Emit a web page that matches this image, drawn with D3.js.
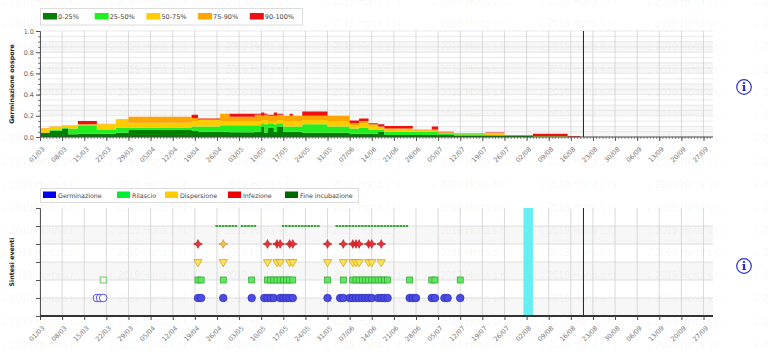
<!DOCTYPE html>
<html><head><meta charset="utf-8">
<script src="https://cdn.jsdelivr.net/npm/d3@7/dist/d3.min.js"></script>
<style>
html,body{margin:0;padding:0;background:#fff;}
svg{display:block;font-family:"DejaVu Sans",Verdana,sans-serif;}
</style></head><body>
<svg id="c" width="768" height="358"></svg>
<script>
// ---------------- DATA ----------------
const year = "2019";
const classLabels = ["0-25%","25-50%","50-75%","75-90%","90-100%"];
const eventLabels = ["Germinazione","Rilascio","Dispersione","Infezione","Fine incubazione"];
const yTicksTop = [0,0.2,0.4,0.6,0.8,1.0];

// step segments of oospore germination (thickness of each class layer)
const segStart = ["03-01","03-04","03-08","03-10","03-13","03-19","03-25","03-29","04-18","04-20","04-27","04-30","05-08","05-10","05-11","05-12","05-14","05-15","05-17","05-19","05-20","05-23","05-31","06-07","06-10","06-13","06-16","06-18","06-27","07-03","07-05","07-10","07-20","07-26","08-04","08-15","08-19"];
const p0_25   = [0.04,0.06,0.08,0.025,0.03,0.03,0.04,0.066,0.06,0.05,0.05,0.045,0.05,0.10,0.04,0.09,0.05,0.10,0.05,0.05,0.05,0.04,0.04,0.03,0.03,0.03,0.05,0.02,0.02,0.02,0.02,0.01,0.01,0.01,0,0,0];
const p25_50  = [0,0.005,0.005,0.055,0.08,0.035,0.05,0.024,0.04,0.05,0.06,0.065,0.06,0.03,0.08,0.04,0.07,0.03,0.05,0.05,0.05,0.08,0.06,0.05,0.06,0.04,0.02,0.03,0.03,0.03,0.015,0.015,0.01,0.01,0.005,0,0];
const p50_75  = [0.04,0.03,0.02,0.025,0.005,0.055,0.075,0.045,0.05,0.06,0.04,0.04,0.04,0.03,0.04,0.02,0.03,0.03,0.05,0.05,0.05,0.04,0.05,0.03,0.04,0.04,0.02,0.02,0.01,0.01,0.005,0.005,0.015,0,0,0,0];
const p75_90  = [0.005,0.005,0.005,0.005,0.005,0.005,0.005,0.055,0.03,0.005,0.07,0.04,0.06,0.04,0.05,0.05,0.05,0.05,0.05,0.05,0.05,0.04,0.05,0.02,0.02,0.01,0.01,0.01,0.01,0.01,0.005,0.002,0.002,0,0.005,0,0];
const p90_100 = [0,0,0,0,0.03,0,0,0,0.03,0.01,0,0.03,0.01,0.03,0.01,0.01,0.03,0.01,0,0.02,0,0.04,0,0.025,0.025,0.01,0.02,0.024,0,0.03,0.005,0.003,0.005,0,0.02,0.008,0];

// event summary
const germinazioneDates = ["04-20","04-21","04-28","05-07","05-11","05-12","05-13","05-14","05-16","05-17","05-18","05-19","05-20","05-31","06-04","06-05","06-07","06-08","06-09","06-10","06-11","06-12","06-13","06-14","06-16","06-17","06-18","06-19","06-26","06-27","06-28","07-03","07-04","07-07","07-08","07-12"];
const germinazioneEarly = ["03-19","03-20","03-21"];
const rilascioDates = ["04-20","04-21","04-28","05-07","05-12","05-13","05-14","05-15","05-16","05-17","05-18","05-19","05-20","05-31","06-05","06-08","06-09","06-10","06-11","06-12","06-13","06-14","06-15","06-16","06-17","06-18","06-19","06-26","07-03","07-04","07-12"];
const rilascioEarly = ["03-21"];
const dispersioneDates = ["04-20","04-28","05-12","05-15","05-16","05-19","05-20","05-31","06-05","06-08","06-09","06-10","06-13","06-14","06-17"];
const infezioneDates   = ["04-20","04-28","05-12","05-15","05-16","05-19","05-20","05-31","06-05","06-08","06-09","06-10","06-13","06-14","06-17"];
const infezioneLevel   = ["high","mid","high","high","high","high","high","high","high","high","high","high","high","high","high"];
const incubazioneStart = ["04-26","05-04","05-17","06-03"];
const incubazioneEnd   = ["05-02","05-08","05-28","06-25"];
const highlightStart = "08-01", highlightEnd = "08-04";
const todayDate = "08-20";
const domainStart = "03-01", domainEnd = "09-30";

// ---------------- CHART ----------------
const parse = s => d3.timeParse("%Y-%m-%d")(year + "-" + s);
const svg = d3.select("#c");
const x = d3.scaleTime().domain([parse(domainStart), parse(domainEnd)]).range([40, 713]);
const fridays = d3.timeFriday.range(parse(domainStart), parse("09-28"));
const days = d3.timeDay.range(parse(domainStart), parse(domainEnd));
const fmt = d3.timeFormat("%d/%m");

const classColors = ["#008000","#22ee22","#ffcc00","#ffa500","#ee1111"];
const eventColors = ["#0000ee","#00ee33","#ffcc00","#ee0000","#006600"];

// ---- watermark layer
const wm = svg.append("g").attr("font-family","'Liberation Sans',Arial,sans-serif").attr("font-size",10).attr("fill","#000").attr("fill-opacity",0.05);
for (let r = 0; r < 16; r++) for (let c = 0; c < 8; c++) {
  wm.append("text").attr("x", c*107.5).attr("y", 4.5 + r*22.9).text("© 2019 Horta s.r.l.");
}

// ================= TOP CHART =================
const yT = d3.scaleLinear().domain([0,1]).range([137, 31]);
const topG = svg.append("g");
d3.range(0, 1, 0.1).forEach((v,i) => {
  if (i % 2 === 0) topG.append("rect").attr("x",40).attr("width",673).attr("y",yT(v+0.1)).attr("height",yT(v)-yT(v+0.1)).attr("fill","#000").attr("fill-opacity",0.03);
});
topG.append("g").selectAll("line").data(d3.range(0.05, 1.001, 0.05)).join("line")
  .attr("x1",40).attr("x2",713).attr("y1",d=>yT(d)).attr("y2",d=>yT(d))
  .attr("stroke","#dcdcdc").attr("stroke-width",0.6);
topG.append("g").selectAll("line").data(fridays).join("line")
  .attr("x1",d=>x(d)).attr("x2",d=>x(d)).attr("y1",31).attr("y2",137)
  .attr("stroke","#d0d0d0").attr("stroke-width",0.8);

const rows = segStart.map((s,i) => ({date: parse(s), a:p0_25[i], b:p25_50[i], c:p50_75[i], d:p75_90[i], e:p90_100[i]}));
const stack = d3.stack().keys(["a","b","c","d","e"])(rows);
const area = d3.area().x(d=>x(d.data.date)).y0(d=>yT(d[0])).y1(d=>yT(d[1])).curve(d3.curveStepAfter);
topG.append("g").selectAll("path").data(stack).join("path")
  .attr("d", area).attr("fill", (d,i)=>classColors[i]);

topG.append("line").attr("x1",x(parse(todayDate))).attr("x2",x(parse(todayDate))).attr("y1",31).attr("y2",137).attr("stroke","#222").attr("stroke-width",1);

const yAxT = topG.append("g").attr("transform","translate(40,0)")
  .call(d3.axisLeft(yT).tickValues(yTicksTop).tickFormat(d3.format(".1f")).tickSize(4));
yAxT.select(".domain").attr("stroke","#555");
yAxT.selectAll("line").attr("stroke","#555");
yAxT.selectAll("text").attr("font-size",6.5).attr("fill","#666").attr("font-family","'DejaVu Sans',sans-serif").attr("x",-6);
topG.append("g").attr("transform","translate(40,0)")
  .call(d3.axisLeft(yT).tickValues(d3.range(0.05,1,0.05)).tickFormat("").tickSize(2))
  .call(g=>{g.select(".domain").remove(); g.selectAll("line").attr("stroke","#777");});

topG.append("g").attr("transform","translate(0,137)")
  .call(d3.axisBottom(x).tickValues(days).tickFormat("").tickSize(2))
  .call(g=>{g.select(".domain").remove(); g.selectAll("line").attr("stroke","#666").attr("stroke-width",0.7);});
const xAxT = topG.append("g").attr("transform","translate(0,137)")
  .call(d3.axisBottom(x).tickValues(fridays).tickFormat(fmt).tickSize(4));
xAxT.select(".domain").attr("stroke","#444").attr("d","M40,0H713");
xAxT.selectAll("line").attr("stroke","#555");
xAxT.selectAll("text").attr("font-size",6.5).attr("fill","#777").attr("font-family","'DejaVu Sans',sans-serif")
  .attr("text-anchor","end").attr("x",0).attr("y",0).attr("dy","0.35em")
  .attr("transform","translate(3,11) rotate(-45)");

topG.append("text").attr("transform","translate(14,84) rotate(-90)").attr("text-anchor","middle")
  .attr("font-size",6.3).attr("font-weight","bold").attr("fill","#222").text("Germinazione oospore");

const lgT = svg.append("g");
lgT.append("rect").attr("x",40.5).attr("y",8.5).attr("width",262).attr("height",16.5).attr("fill","#fff").attr("stroke","#ddd");
classLabels.forEach((l,i) => {
  const gx = 43 + i*51.7;
  lgT.append("rect").attr("x",gx).attr("y",13).attr("width",14).attr("height",6.5).attr("fill",classColors[i]);
  lgT.append("text").attr("x",gx+15).attr("y",19.3).attr("font-size",6.5).attr("fill","#444").text(l);
});

// ================= BOTTOM CHART =================
const yB = d3.scaleLinear().domain([0,6]).range([316, 208]);
const bot = svg.append("g");
[0,2,4].forEach(v => bot.append("rect").attr("x",40).attr("width",673).attr("y",yB(v+1)).attr("height",yB(v)-yB(v+1)).attr("fill","#000").attr("fill-opacity",0.03));
bot.append("g").selectAll("line").data([1,2,3,4,5]).join("line")
  .attr("x1",40).attr("x2",713).attr("y1",d=>yB(d)).attr("y2",d=>yB(d)).attr("stroke","#d8d8d8").attr("stroke-width",0.8);
bot.append("g").selectAll("line").data(fridays).join("line")
  .attr("x1",d=>x(d)).attr("x2",d=>x(d)).attr("y1",208).attr("y2",316).attr("stroke","#d0d0d0").attr("stroke-width",0.8);

bot.append("rect").attr("x",x(parse(highlightStart))).attr("width",x(parse(highlightEnd))-x(parse(highlightStart)))
  .attr("y",208).attr("height",108).attr("fill","#66eef2");
bot.append("line").attr("x1",x(parse(todayDate))).attr("x2",x(parse(todayDate))).attr("y1",208).attr("y2",316).attr("stroke","#222").attr("stroke-width",1);

const yAxB = bot.append("g").attr("transform","translate(40,0)")
  .call(d3.axisLeft(yB).tickValues([0,1,2,3,4,5,6]).tickFormat("").tickSize(4));
yAxB.select(".domain").attr("stroke","#555");
yAxB.selectAll("line").attr("stroke","#555");
const xAxB = bot.append("g").attr("transform","translate(0,316)")
  .call(d3.axisBottom(x).tickValues(fridays).tickFormat(fmt).tickSize(4));
xAxB.select(".domain").attr("stroke","#333").attr("stroke-width",2).attr("d","M40,0H713");
xAxB.selectAll("line").attr("stroke","#444");
xAxB.selectAll("text").attr("font-size",6.5).attr("fill","#777").attr("font-family","'DejaVu Sans',sans-serif")
  .attr("text-anchor","end").attr("x",0).attr("y",0).attr("dy","0.35em")
  .attr("transform","translate(3,11) rotate(-45)");
bot.append("text").attr("transform","translate(14,262) rotate(-90)").attr("text-anchor","middle")
  .attr("font-size",6.3).attr("font-weight","bold").attr("fill","#222").text("Sintesi eventi");

const star4 = {draw(ctx, size){
  const r = Math.sqrt(size)*0.75, ri = r*0.45;
  for (let k=0;k<8;k++){
    const a = -Math.PI/2 + k*Math.PI/4, rr = k%2===0 ? r : ri;
    const px = rr*Math.cos(a), py = rr*Math.sin(a);
    if (k===0) ctx.moveTo(px,py); else ctx.lineTo(px,py);
  }
  ctx.closePath();
}};
const mk = bot.append("g");
incubazioneStart.forEach((s,i) => {
  mk.append("line").attr("x1",x(parse(s))-1.5).attr("x2",x(d3.timeDay.offset(parse(incubazioneEnd[i]),1))-1.5)
    .attr("y1",yB(5)).attr("y2",yB(5)).attr("stroke","#3aa83a").attr("stroke-width",2.2)
    .attr("stroke-dasharray","2.6 0.6");
});
mk.append("g").selectAll("path").data(infezioneDates).join("path")
  .attr("transform",d=>`translate(${x(parse(d))},${yB(4)})`)
  .attr("d", d3.symbol(star4, 34))
  .attr("fill",(d,i)=>infezioneLevel[i]==="mid" ? "#f2c14e" : "#e8333a")
  .attr("stroke",(d,i)=>infezioneLevel[i]==="mid" ? "#c08a20" : "#b01010").attr("stroke-width",0.6);
mk.append("g").selectAll("path").data(dispersioneDates).join("path")
  .attr("transform",d=>`translate(${x(parse(d))},${yB(3)}) rotate(180)`)
  .attr("d", d3.symbol(d3.symbolTriangle, 30))
  .attr("fill","#ffe05a").attr("stroke","#c9a100").attr("stroke-width",0.7);
mk.append("g").selectAll("rect").data(rilascioEarly).join("rect")
  .attr("x",d=>x(parse(d))-3).attr("y",yB(2)-3).attr("width",6).attr("height",6)
  .attr("fill","#fff").attr("stroke","#44c044").attr("stroke-width",0.8);
mk.append("g").selectAll("rect").data(rilascioDates).join("rect")
  .attr("x",d=>x(parse(d))-3).attr("y",yB(2)-3).attr("width",6).attr("height",6)
  .attr("fill","#5ee85e").attr("stroke","#2ca02c").attr("stroke-width",0.7);
mk.append("g").selectAll("circle").data(germinazioneEarly).join("circle")
  .attr("cx",d=>x(parse(d))).attr("cy",yB(1)).attr("r",3.8)
  .attr("fill","#fff").attr("stroke","#4444dd").attr("stroke-width",0.9);
mk.append("g").selectAll("circle").data(germinazioneDates).join("circle")
  .attr("cx",d=>x(parse(d))).attr("cy",yB(1)).attr("r",3.8)
  .attr("fill","#4b4be6").attr("stroke","#2a2ab0").attr("stroke-width",0.7);

const lgB = svg.append("g");
lgB.append("rect").attr("x",40.5).attr("y",188.5).attr("width",318).attr("height",14).attr("fill","#fff").attr("stroke","#ddd");
const lgBx = [43,117,165,228,285];
eventLabels.forEach((l,i) => {
  lgB.append("rect").attr("x",lgBx[i]).attr("y",191.5).attr("width",13).attr("height",6.5).attr("fill",eventColors[i]);
  lgB.append("text").attr("x",lgBx[i]+15).attr("y",198).attr("font-size",6.3).attr("fill","#444").text(l);
});

[87, 266].forEach(cy => {
  const g = svg.append("g").attr("transform",`translate(744,${cy})`);
  g.append("circle").attr("r",7.3).attr("fill","#fff").attr("stroke","#3030c0").attr("stroke-width",1.2);
  g.append("text").attr("y",4.2).attr("text-anchor","middle").attr("font-family","'DejaVu Serif',serif")
    .attr("font-weight","bold").attr("font-size",11.5).attr("fill","#2424b8").text("i");
});
</script>
</body></html>
